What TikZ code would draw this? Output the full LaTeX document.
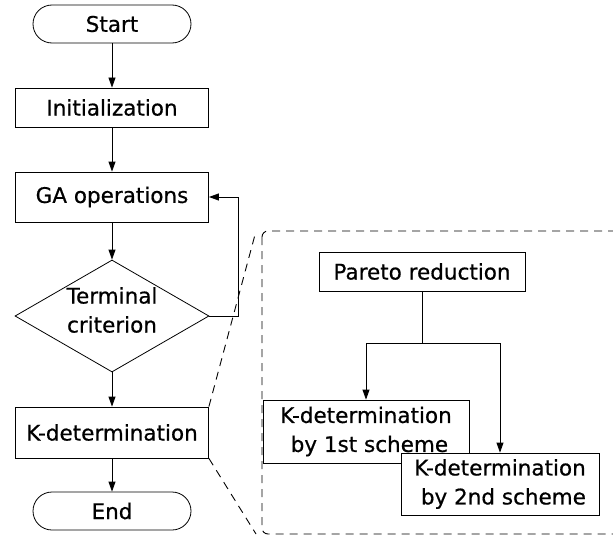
\documentclass[tikz,border=0pt]{standalone}
\usepackage{fontspec}
\setmainfont{DejaVu Sans}[FakeBold=0.6]
\usetikzlibrary{arrows.meta,shapes.geometric}

\begin{document}
\begin{tikzpicture}[x=1pt,y=-1pt,>={Triangle[length=10pt,width=7pt]},line width=0.8pt,
	every node/.style={font=\fontsize{21.5}{29}\selectfont},
	term/.style={draw,rectangle,rounded corners=19pt,minimum width=158pt,minimum height=38pt,inner sep=0pt},
	proc/.style={draw,rectangle,minimum width=193pt,inner sep=0pt},
	decision/.style={draw,diamond,minimum width=194pt,minimum height=112pt,inner sep=0pt},
	sub/.style={draw,rectangle,fill=white,align=center,inner sep=0pt},
	zoomline/.style={line width=0.9pt,dash pattern=on 8pt off 6pt}]

\useasboundingbox (0,0) rectangle (613,535);

\node[term] (start) at (112,24) {Start};
 \node[proc,minimum height=39pt] (init) [node distance=83.5pt,below of=start] {Initialization};
 \node[proc,minimum height=50pt] (ga) [node distance=89.5pt,below of=init] {GA operations};
	\node[decision] (crit) [node distance=119pt,below of=ga,
		label={[align=center,yshift=6pt]center:Terminal\\criterion}] {};
	\node[proc,minimum height=51pt] (kdet) [node distance=116.5pt,below of=crit] {K-determination};
	\node[term] (end) [node distance=78.5pt,below of=kdet] {End};

	\node[sub,minimum width=206pt,minimum height=39pt] (pareto) at (422,271.5) {Pareto reduction};
	\node[sub,minimum width=206pt,minimum height=63pt] (first) at (366,431.5) {K-determination\\\ by 1st scheme};
	\node[sub,minimum width=198pt,minimum height=62pt] (second) at (500,484) {K-determination\\\ by 2nd scheme};

	\coordinate (zoomtl) at (256,231);
	\coordinate (zoombl) at (256,534);

	\draw[->] (start) -- (init);
	\draw[->] (init) -- (ga);
	\draw[->] (ga) -- (crit);
	\draw[->] (crit) -- (kdet);
	\draw[->] (kdet) -- (end);
	\draw[->] (crit.east) -- ++(29,0) |- (ga.east);

	\draw (pareto.south) -- ++(0,51.5) coordinate (split);
	\draw[->] (split) -| (first.north);
	\draw[->] (split) -| (second.north);

	% zoomed region
	\draw[zoomline,rounded corners=6pt] (262,231) rectangle (640,534);
	\draw[zoomline] (kdet.north east) -- (zoomtl);
	\draw[zoomline] (kdet.south east) -- (zoombl);
\end{tikzpicture}
\end{document}
